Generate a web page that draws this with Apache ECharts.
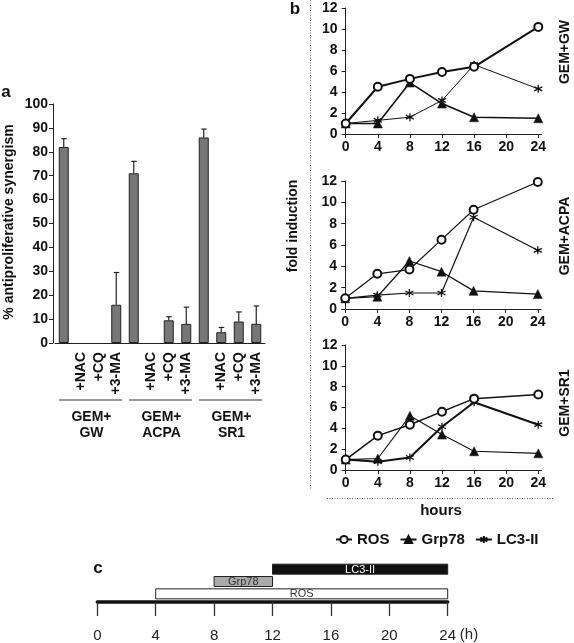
<!DOCTYPE html>
<html><head><meta charset="utf-8">
<script src="https://cdn.jsdelivr.net/npm/echarts@6/dist/echarts.min.js"></script>
<style>html,body{margin:0;padding:0;background:#fff}#c{width:574px;height:643px}</style>
</head><body><div id="c"></div>
<script>
// ---- Panel a data ----
const groups = ['GEM+\nGW', 'GEM+\nACPA', 'GEM+\nSR1'];
const treatments = ['', '+NAC', '+CQ', '+3-MA'];
const synergy = [82, 0, 0, 16, 71, 0, 9.5, 8, 86, 4.5, 9, 8];
const synergyErr = [3.5, 0, 0, 13.5, 5, 0, 1.5, 7, 3.5, 2, 4, 7.5];

// ---- Panel b data ----
const hours = [0, 4, 8, 12, 16, 24];
const hourTicks = [0, 4, 8, 12, 16, 20, 24];
const panelNames = ['GEM+GW', 'GEM+ACPA', 'GEM+SR1'];
const rosGW = [1, 4.5, 5.25, 5.9, 6.4, 10.2];
const grpGW = [1, 1, 4.9, 2.9, 1.6, 1.5];
const lc3GW = [1, 1.3, 1.6, 3.2, 6.6, 4.3];
const rosACPA = [1, 3.3, 3.7, 6.5, 9.3, 11.9];
const grpACPA = [1, 1.15, 4.5, 3.5, 1.7, 1.4];
const lc3ACPA = [1, 1.3, 1.5, 1.5, 8.6, 5.5];
const rosSR1 = [1, 3.3, 4.35, 5.6, 6.85, 7.25];
const grpSR1 = [1, 1.1, 5.2, 3.4, 1.8, 1.6];
const lc3SR1 = [1, 0.8, 1.2, 4.15, 6.5, 4.35];

// ---- Panel c data ----
const markers = ['ROS', 'Grp78', 'LC3-II'];
const windowStart = [4, 8, 12];
const windowEnd = [24, 12, 24];

const FONT = 'Liberation Sans, Arial, sans-serif';
const categories = [];
groups.forEach((g, gi) => treatments.forEach((t, ti) => categories.push(t === '' ? g : t)));

const asterisk = 'path://M5,0L5,10M0.67,2.5L9.33,7.5M0.67,7.5L9.33,2.5';
const symOf = {ROS: 'emptyCircle', Grp78: 'triangle', 'LC3-II': asterisk};
const symSize = {ROS: 8, Grp78: 9, 'LC3-II': 8};

const bGrids = [
  {left: 342.5, top: 8, width: 199, height: 126},
  {left: 342, top: 181, width: 199, height: 128},
  {left: 342.5, top: 345, width: 199, height: 125}
];
const bData = [
  {ROS: rosGW, Grp78: grpGW, 'LC3-II': lc3GW, w: {ROS: 2, Grp78: 1.6, 'LC3-II': 1}},
  {ROS: rosACPA, Grp78: grpACPA, 'LC3-II': lc3ACPA, w: {ROS: 1.2, Grp78: 1.2, 'LC3-II': 1.2}},
  {ROS: rosSR1, Grp78: grpSR1, 'LC3-II': lc3SR1, w: {ROS: 1.5, Grp78: 1.1, 'LC3-II': 2}}
];

const grid = [{left: 55, top: 104, width: 210, height: 239}].concat(bGrids)
  .concat([{left: 97.3, top: 563, width: 350.4, height: 44}]);

const xAxis = [{
  type: 'category', gridIndex: 0, data: categories,
  axisLine: {lineStyle: {color: '#222', width: 1}},
  axisTick: {interval: 0, length: 5, lineStyle: {color: '#222'}},
  axisLabel: {interval: 0, rotate: 90, margin: 9, color: '#111', fontFamily: FONT, fontWeight: 'bold', fontSize: 14,
    formatter: v => v.indexOf('GEM') === 0 ? '' : v}
}];
const yAxis = [{
  type: 'value', gridIndex: 0, min: 0, max: 100, interval: 10, offset: 2,
  axisLine: {show: true, lineStyle: {color: '#222'}},
  axisTick: {show: true, length: 4, lineStyle: {color: '#222'}},
  splitLine: {show: false},
  axisLabel: {margin: 5, color: '#111', fontFamily: FONT, fontWeight: 'bold', fontSize: 14}
}];
bGrids.forEach((g, i) => {
  xAxis.push({
    type: 'value', gridIndex: i + 1, min: -0.4, max: 24.4,
    axisLine: {show: true, onZero: false, lineStyle: {color: '#222'}},
    axisTick: {show: true, length: 4, customValues: hourTicks, lineStyle: {color: '#222'}},
    splitLine: {show: false},
    axisLabel: {customValues: hourTicks, margin: 6, color: '#111', fontFamily: FONT, fontWeight: 'bold', fontSize: 14}
  });
  yAxis.push({
    type: 'value', gridIndex: i + 1, min: 0, max: 12, interval: 2,
    axisLine: {show: true, lineStyle: {color: '#222'}},
    axisTick: {show: true, length: 4, lineStyle: {color: '#222'}},
    splitLine: {show: false},
    axisLabel: {margin: 5, color: '#111', fontFamily: FONT, fontWeight: 'bold', fontSize: 14}
  });
});
xAxis.push({
  type: 'value', gridIndex: 4, min: 0, max: 24, interval: 4, offset: 2,
  axisLine: {show: true, lineStyle: {color: '#111', width: 3.5}},
  axisTick: {show: true, inside: false, length: 14, lineStyle: {color: '#333', width: 1.3}},
  splitLine: {show: false},
  axisLabel: {margin: 26, color: '#222', fontFamily: FONT, fontSize: 15}
});
yAxis.push({
  type: 'category', gridIndex: 4, data: markers, show: false
});

const series = [];
series.push({
  type: 'bar', xAxisIndex: 0, yAxisIndex: 0, data: synergy.map(v => (v > 0 ? v : null)), barWidth: 10,
  itemStyle: {color: '#777777', borderColor: '#222', borderWidth: 1}, silent: true
});
series.push({
  type: 'custom', xAxisIndex: 0, yAxisIndex: 0,
  data: synergy.map((v, i) => [i, v, synergyErr[i]]),
  encode: {x: 0, y: 1},
  renderItem: function (params, api) {
    const i = api.value(0), v = api.value(1), e = api.value(2);
    if (!e) return null;
    const b = api.coord([i, v]), t = api.coord([i, v + e]);
    const st = {stroke: '#222', lineWidth: 1.2};
    return {type: 'group', children: [
      {type: 'line', shape: {x1: b[0], y1: b[1], x2: t[0], y2: t[1]}, style: st},
      {type: 'line', shape: {x1: t[0] - 2.5, y1: t[1], x2: t[0] + 3, y2: t[1]}, style: st}
    ]};
  }
});
bData.forEach((d, i) => {
  markers.forEach(m => {
    series.push({
      name: m, type: 'line', xAxisIndex: i + 1, yAxisIndex: i + 1,
      data: hours.map((h, k) => [h, d[m][k]]),
      symbol: symOf[m], symbolSize: symSize[m], showAllSymbol: true,
      lineStyle: {color: '#111', width: d.w[m]},
      itemStyle: m === 'ROS' ? {color: '#111', borderColor: '#111', borderWidth: 1.2}
        : m === 'Grp78' ? {color: '#111', borderColor: '#111', borderWidth: 0.5}
        : {color: '#111', borderColor: '#111', borderWidth: 1.3},
      z: m === 'ROS' ? 3 : 2, silent: true
    });
  });
});
const barFill = {ROS: '#ffffff', Grp78: '#aaaaaa', 'LC3-II': '#111111'};
const barText = {ROS: '#333', Grp78: '#333', 'LC3-II': '#fff'};
series.push({
  type: 'custom', xAxisIndex: 4, yAxisIndex: 4,
  data: markers.map((m, i) => [i, windowStart[i], windowEnd[i]]),
  encode: {x: [1, 2], y: 0},
  renderItem: function (params, api) {
    const i = api.value(0);
    const s = api.coord([api.value(1), i]), e = api.coord([api.value(2), i]);
    const h = 10, m = markers[i];
    return {type: 'group', children: [
      {type: 'rect', shape: {x: s[0], y: s[1] - h / 2, width: e[0] - s[0], height: h},
        style: {fill: barFill[m], stroke: '#222', lineWidth: 1}},
      {type: 'text', style: {text: m, x: (s[0] + e[0]) / 2, y: s[1] + 0.5, align: 'center', verticalAlign: 'middle',
        fill: barText[m], font: '11px ' + FONT}}
    ]};
  }
});

const chart = echarts.init(document.getElementById('c'), null, {renderer: 'canvas'});
const txt = (t, x, y, o) => Object.assign({type: 'text', x: x, y: y, style: Object.assign({text: t, fill: '#111',
  font: 'bold 14px ' + FONT, align: 'center', verticalAlign: 'middle'}, o || {})});
const rot = (t, x, y, o) => Object.assign(txt(t, x, y, o), {rotation: Math.PI / 2});

chart.setOption({
  animation: false,
  backgroundColor: '#fff',
  grid: grid, xAxis: xAxis, yAxis: yAxis, series: series,
  legend: {
    data: markers, left: 330, top: 527, itemWidth: 16, itemHeight: 9, itemGap: 10,
    textStyle: {fontFamily: FONT, fontWeight: 'bold', fontSize: 15, color: '#111'}
  }
});

// annotations positioned from the category axis
const graphics = [];
const cw = chart.convertToPixel({xAxisIndex: 0}, 1) - chart.convertToPixel({xAxisIndex: 0}, 0);
groups.forEach((g, gi) => {
  const c0 = chart.convertToPixel({xAxisIndex: 0}, gi * 4);
  const c3 = chart.convertToPixel({xAxisIndex: 0}, gi * 4 + 3);
  const x1 = c0 - cw / 2 + 4, x2 = c3 + cw / 2 - 3;
  graphics.push({type: 'line', shape: {x1: x1, y1: 400, x2: x2, y2: 400}, style: {stroke: '#333', lineWidth: 1}});
  graphics.push({type: 'text', x: (x1 + x2) / 2 + 1, y: 409, style: {text: g, fill: '#111', font: 'bold 14px ' + FONT,
    align: 'center', verticalAlign: 'top', lineHeight: 16}});
});
graphics.push(txt('a', 6, 92, {font: 'bold 17px ' + FONT}));
graphics.push(txt('b', 295, 9, {font: 'bold 17px ' + FONT}));
graphics.push(txt('c', 98, 568, {font: 'bold 17px ' + FONT}));
graphics.push(rot('% antiproliferative synergism', 9, 222));
graphics.push(rot('fold induction', 293, 226));
graphics.push(rot(panelNames[0], 565, 52));
graphics.push(rot(panelNames[1], 565, 236));
graphics.push(rot(panelNames[2], 565, 403));
graphics.push(txt('hours', 441, 511, {font: 'bold 15px ' + FONT}));
graphics.push(txt('(h)', 469, 635, {font: '15px ' + FONT, fill: '#222'}));
graphics.push({type: 'line', shape: {x1: 310.5, y1: 0, x2: 310.5, y2: 490}, style: {stroke: '#666', lineWidth: 1, lineDash: [1, 1.5]}});
graphics.push({type: 'line', shape: {x1: 327, y1: 498.5, x2: 553, y2: 498.5}, style: {stroke: '#666', lineWidth: 1, lineDash: [1, 1.5]}});
chart.setOption({graphic: graphics});
</script></body></html>
